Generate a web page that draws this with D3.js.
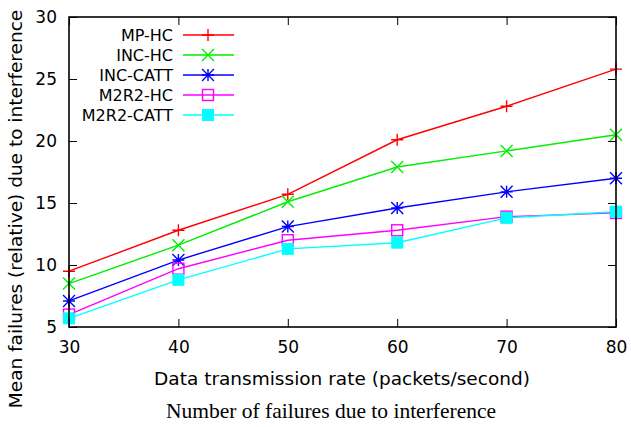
<!DOCTYPE html>
<html>
<head>
<meta charset="utf-8">
<script src="https://cdn.jsdelivr.net/npm/d3@7"></script>
<style>
  body { margin: 0; background: #fff; }
  svg { display: block; }
</style>
</head>
<body>
<script>
// Chart data
var rates     = [30, 40, 50, 60, 70, 80];
var mp_hc     = [9.5, 12.8, 15.7, 20.1, 22.8, 25.8];
var inc_hc    = [8.5, 11.6, 15.1, 17.9, 19.2, 20.5];
var inc_catt  = [7.1, 10.4, 13.1, 14.6, 15.9, 17.0];
var m2r2_hc   = [6.0, 9.7, 12.0, 12.8, 13.9, 14.2];
var m2r2_catt = [5.7, 8.8, 11.3, 11.8, 13.8, 14.3];
var x_ticks   = [30, 40, 50, 60, 70, 80];
var y_ticks   = [5, 10, 15, 20, 25, 30];

var series = [
  { name: "MP-HC",     values: mp_hc,     color: "#ff0000", marker: "plus" },
  { name: "INC-HC",    values: inc_hc,    color: "#00ee00", marker: "cross" },
  { name: "INC-CATT",  values: inc_catt,  color: "#0000ff", marker: "star" },
  { name: "M2R2-HC",   values: m2r2_hc,   color: "#ff00ff", marker: "box" },
  { name: "M2R2-CATT", values: m2r2_catt, color: "#00ffff", marker: "fillbox" }
];

var width = 631, height = 427;
var plot_left = 69, plot_right = 616, plot_top = 17, plot_bottom = 327;

var svg = d3.select("body").append("svg")
  .attr("width", width)
  .attr("height", height);

var x = d3.scaleLinear().domain([30, 80]).range([plot_left, plot_right]);
var y = d3.scaleLinear().domain([5, 30]).range([plot_bottom, plot_top]);

// draw a marker of a given type centred on (cx, cy)
function draw_marker(g, type, cx, cy, color) {
  var s = 6;
  if (type == "plus") {
    g.append("path").attr("d", "M" + (cx - s) + "," + cy + "H" + (cx + s) + "M" + cx + "," + (cy - s) + "V" + (cy + s))
      .attr("stroke", color).attr("stroke-width", 1.4).attr("fill", "none");
  } else if (type == "cross") {
    g.append("path").attr("d", "M" + (cx - s) + "," + (cy - s) + "L" + (cx + s) + "," + (cy + s) + "M" + (cx - s) + "," + (cy + s) + "L" + (cx + s) + "," + (cy - s))
      .attr("stroke", color).attr("stroke-width", 1.4).attr("fill", "none");
  } else if (type == "star") {
    g.append("path").attr("d", "M" + (cx - s) + "," + cy + "H" + (cx + s) + "M" + cx + "," + (cy - s) + "V" + (cy + s) +
        "M" + (cx - s) + "," + (cy - s) + "L" + (cx + s) + "," + (cy + s) + "M" + (cx - s) + "," + (cy + s) + "L" + (cx + s) + "," + (cy - s))
      .attr("stroke", color).attr("stroke-width", 1.4).attr("fill", "none");
  } else if (type == "box") {
    g.append("rect").attr("x", cx - 5.5).attr("y", cy - 5.5).attr("width", 11).attr("height", 11)
      .attr("stroke", color).attr("stroke-width", 1.4).attr("fill", "none");
  } else if (type == "fillbox") {
    g.append("rect").attr("x", cx - 6).attr("y", cy - 6).attr("width", 12).attr("height", 12)
      .attr("fill", color);
  }
}

// Series lines and markers
var line = d3.line()
  .x(function (d, i) { return x(rates[i]); })
  .y(function (d) { return y(d); });

var plot = svg.append("g");
series.forEach(function (s) {
  plot.append("path")
    .datum(s.values)
    .attr("d", line)
    .attr("fill", "none")
    .attr("stroke", s.color)
    .attr("stroke-width", 1.4);
  s.values.forEach(function (v, i) {
    draw_marker(plot, s.marker, x(rates[i]), y(v), s.color);
  });
});

// Border and axes (gnuplot style, ticks inward and mirrored)
var font = "DejaVu Sans, sans-serif";

svg.append("g")
  .attr("transform", "translate(0," + plot_bottom + ")")
  .call(d3.axisBottom(x).tickValues(x_ticks).tickSizeInner(-8).tickSizeOuter(0).tickPadding(14))
  .call(function (g) {
    g.select(".domain").remove();
    g.selectAll("text").attr("font-family", font).attr("font-size", 17).attr("fill", "#000");
  });
svg.append("g")
  .attr("transform", "translate(0," + plot_top + ")")
  .call(d3.axisTop(x).tickValues(x_ticks).tickSizeInner(-8).tickSizeOuter(0).tickFormat(""))
  .call(function (g) { g.select(".domain").remove(); });
svg.append("g")
  .attr("transform", "translate(" + plot_left + ",0)")
  .call(d3.axisLeft(y).tickValues(y_ticks).tickSizeInner(-8).tickSizeOuter(0).tickPadding(12))
  .call(function (g) {
    g.select(".domain").remove();
    g.selectAll("text").attr("font-family", font).attr("font-size", 17).attr("fill", "#000");
  });
svg.append("g")
  .attr("transform", "translate(" + plot_right + ",0)")
  .call(d3.axisRight(y).tickValues(y_ticks).tickSizeInner(-8).tickSizeOuter(0).tickFormat(""))
  .call(function (g) { g.select(".domain").remove(); });

svg.append("rect")
  .attr("x", plot_left).attr("y", plot_top)
  .attr("width", plot_right - plot_left).attr("height", plot_bottom - plot_top)
  .attr("fill", "none").attr("stroke", "#000").attr("stroke-width", 1.6);

// Legend
var legend = svg.append("g");
series.forEach(function (s, i) {
  var ly = 35 + i * 20;
  legend.append("text")
    .attr("x", 173).attr("y", ly)
    .attr("dy", "0.35em")
    .attr("text-anchor", "end")
    .attr("font-family", font).attr("font-size", 16)
    .text(s.name);
  legend.append("line")
    .attr("x1", 183).attr("x2", 234).attr("y1", ly).attr("y2", ly)
    .attr("stroke", s.color).attr("stroke-width", 1.4);
  draw_marker(legend, s.marker, 208, ly, s.color);
});

// Axis titles and caption
svg.append("text")
  .attr("x", 342).attr("y", 385)
  .attr("text-anchor", "middle")
  .attr("font-family", font).attr("font-size", 18.5)
  .text("Data transmission rate (packets/second)");

svg.append("text")
  .attr("transform", "translate(22,209) rotate(-90)")
  .attr("text-anchor", "middle")
  .attr("font-family", font).attr("font-size", 18.5)
  .text("Mean failures (relative) due to interference");

svg.append("text")
  .attr("x", 331).attr("y", 418)
  .attr("text-anchor", "middle")
  .attr("font-family", "Liberation Serif, Times New Roman, serif").attr("font-size", 21.5)
  .text("Number of failures due to interference");
</script>
</body>
</html>
